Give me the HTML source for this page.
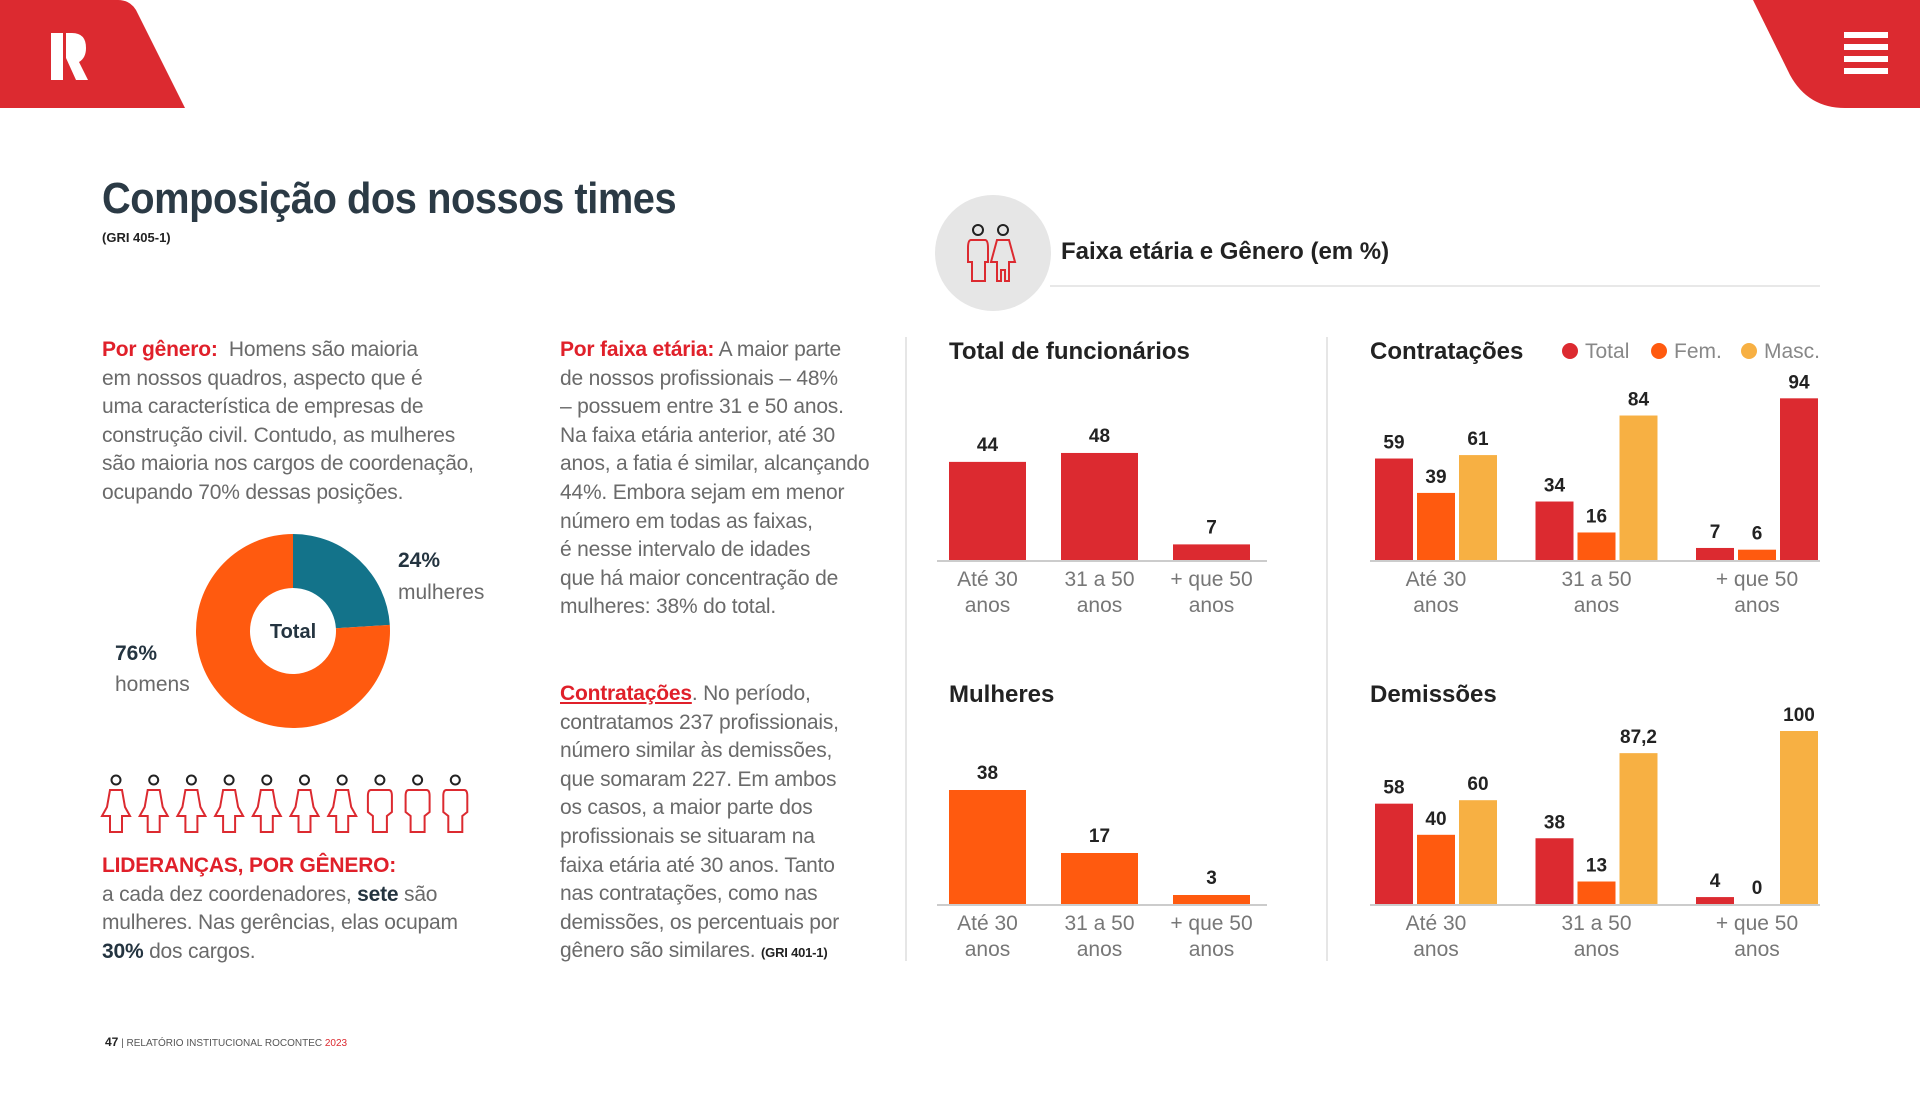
<!DOCTYPE html>
<html><head><meta charset="utf-8">
<style>
*{margin:0;padding:0;box-sizing:border-box}
body{width:1920px;height:1096px;background:#fff;position:relative;overflow:hidden;font-family:"Liberation Sans Narrow","Liberation Sans",sans-serif;}
.abs{position:absolute;white-space:nowrap}
.p{position:absolute;font-size:21px;line-height:28.6px;color:#6a6a6a;white-space:nowrap;letter-spacing:-0.2px}
.p b.r{color:#e0202a}
.p b.d{color:#243440}
h1{position:absolute;left:102px;top:174px;font-size:44px;color:#2b3a45;font-weight:bold;white-space:nowrap;letter-spacing:-0.5px;transform:scaleX(0.905);transform-origin:0 0}
</style></head>
<body>
<svg class="abs" style="left:0;top:0" width="1920" height="1096">
  <path d="M0 0 H118 Q132 0 138 14 L185 108 H0 Z" fill="#dc2a30"/>
  <path d="M51 33 H63 V80 H51 Z M66 33 H72 Q86 33 86 48 Q86 58 79 62 L88 80 H76 L66 58 Z" fill="#fff"/>
  <path d="M1753 0 H1920 V108 H1845 Q1808 108 1790 75 Z" fill="#dc2a30"/>
  <g fill="#fff">
    <rect x="1844" y="32" width="44" height="6"/><rect x="1844" y="44" width="44" height="6"/><rect x="1844" y="56" width="44" height="6"/><rect x="1844" y="68" width="44" height="6"/>
  </g>
  <circle cx="993" cy="253" r="58" fill="#e6e6e6"/>
  <g fill="none" stroke-width="2">
    <circle cx="978" cy="230" r="5" stroke="#222"/><circle cx="1003" cy="230" r="5" stroke="#222"/>
    <path d="M971 240 H985 Q988 240 988 248 V262 H985 V281 H972 V262 H968 V248 Q968 240 971 240Z" stroke="#dc2a30"/>
    <path d="M997 240 H1009 L1015 262 H1009 V281 H1005 V270 H1001 V281 H997 V262 H991 Z" stroke="#dc2a30"/>
  </g>
  <line x1="1050" y1="286" x2="1820" y2="286" stroke="#e8e8e8" stroke-width="2"/>
  <line x1="906" y1="337" x2="906" y2="961" stroke="#e6e6e6" stroke-width="2"/>
  <line x1="1327" y1="337" x2="1327" y2="961" stroke="#e6e6e6" stroke-width="2"/>
  <g id="charts"></g>
  <g id="donut"></g>
  <g id="people"></g>
</svg>

<h1>Composição dos nossos times</h1>
<div class="abs" style="left:102px;top:230px;font-size:13px;font-weight:bold;color:#222">(GRI 405-1)</div>
<div class="abs" style="left:1061px;top:238px;font-size:24px;font-weight:bold;color:#222">Faixa etária e Gênero (em %)</div>

<div class="p" style="left:102px;top:336px"><b class="r">Por gênero:</b>&nbsp; Homens são maioria<br>em nossos quadros, aspecto que é<br>uma característica de empresas de<br>construção civil. Contudo, as mulheres<br>são maioria nos cargos de coordenação,<br>ocupando 70% dessas posições.</div>

<div class="p" style="left:560px;top:336px"><b class="r">Por faixa etária:</b> A maior parte<br>de nossos profissionais – 48%<br>– possuem entre 31 e 50 anos.<br>Na faixa etária anterior, até 30<br>anos, a fatia é similar, alcançando<br>44%. Embora sejam em menor<br>número em todas as faixas,<br>é nesse intervalo de idades<br>que há maior concentração de<br>mulheres: 38% do total.</div>

<div class="p" style="left:560px;top:680px"><b class="r"><u>Contratações</u></b>. No período,<br>contratamos 237 profissionais,<br>número similar às demissões,<br>que somaram 227. Em ambos<br>os casos, a maior parte dos<br>profissionais se situaram na<br>faixa etária até 30 anos. Tanto<br>nas contratações, como nas<br>demissões, os percentuais por<br>gênero são similares. <b style="font-size:13px;color:#222">(GRI 401-1)</b></div>

<div class="p" style="left:102px;top:852px"><b class="r">LIDERANÇAS, POR GÊNERO:</b><br>a cada dez coordenadores, <b class="d">sete</b> são<br>mulheres. Nas gerências, elas ocupam<br><b class="d">30%</b> dos cargos.</div>

<div class="abs" style="left:398px;top:549px;font-size:21px;font-weight:bold;color:#243440">24%</div>
<div class="abs" style="left:398px;top:581px;font-size:21px;color:#6a6a6a">mulheres</div>
<div class="abs" style="left:115px;top:642px;font-size:21px;font-weight:bold;color:#243440">76%</div>
<div class="abs" style="left:115px;top:673px;font-size:21px;color:#6a6a6a">homens</div>

<div class="abs" style="left:105px;top:1035px;font-size:10px;color:#555"><b style="color:#222;font-size:12px">47</b> | RELATÓRIO INSTITUCIONAL ROCONTEC <span style="color:#dc2a30">2023</span></div>

<script>
const NS='http://www.w3.org/2000/svg';
const ageCats=['Até 30|anos','31 a 50|anos','+ que 50|anos'];
const totalVals=[44,48,7];
const womenVals=[38,17,3];
const hireTotal=[59,34,7];
const hireFem=[39,16,6];
const hireMasc=[61,84,94];
const fireTotal=[58,38,4];
const fireFem=[40,13,0];
const fireMasc=[60,87.2,100];
const donutVals=[24,76];
const figureTypes=['f','f','f','f','f','f','f','m','m','m'];
const RED='#dc2a30',ORANGE='#ff5a0f',YEL='#f7b043',TEAL='#13738a';
const charts=document.getElementById('charts');
function mk(tag,attrs,parent,text){const e=document.createElementNS(NS,tag);for(const k in attrs)e.setAttribute(k,attrs[k]);if(text!==undefined)e.textContent=text;(parent||charts).appendChild(e);return e;}
function fmt(v){return String(v).replace('.',',');}
function catLabel(cx,base,lbl){
  const parts=lbl.split('|');
  parts.forEach((s,j)=>{const t=mk('text',{x:cx,y:base+26+j*26,'text-anchor':'middle','font-size':21,fill:'#777'},charts,s);
  
  });
}
function title(x,y,s){const t=mk('text',{x:x,y:y,'font-size':24,'font-weight':'bold',fill:'#222'},charts,s);
  
  }
function simpleChart(name,x0,base,scale,vals,color){
  const step=112,w=77;
  const ax=mk('line',{x1:x0-12,x2:x0+318,y1:base+1,y2:base+1,stroke:'#ccc','stroke-width':2});
  
  
  vals.forEach((v,i)=>{
    const x=x0+i*step,h=v*scale;
    const r=mk('rect',{x:x,y:base-h,width:w,height:h,fill:color});
    
    
    const t=mk('text',{x:x+w/2,y:base-h-11,'text-anchor':'middle','font-size':19,'font-weight':'bold',fill:'#222'},charts,fmt(v));
    
    
    catLabel(x+w/2,base,ageCats[i]);
  });
}
function groupChart(name,x0,base,scale,series,colors){
  const gstep=160.5,off=42,w=38;
  const ax=mk('line',{x1:x0-5,x2:x0+445,y1:base+1,y2:base+1,stroke:'#ccc','stroke-width':2});
  
  
  ageCats.forEach((c,i)=>{
    series.forEach((vals,s)=>{
      const v=vals[i],x=x0+i*gstep+s*off,h=v*scale;
      const r=mk('rect',{x:x,y:base-h,width:w,height:h,fill:colors[i][s]});
      
      
      const t=mk('text',{x:x+w/2,y:base-h-10,'text-anchor':'middle','font-size':19,'font-weight':'bold',fill:'#222'},charts,fmt(v));
      
      
    });
    catLabel(x0+i*gstep+off+w/2,base,c);
  });
}
title(949,359,'Total de funcionários');
simpleChart('total',949,560,2.23,totalVals,RED);
title(949,702,'Mulheres');
simpleChart('women',949,904,3.0,womenVals,ORANGE);
title(1370,359,'Contratações');
groupChart('hiring',1375,560,1.72,[hireTotal,hireFem,hireMasc],[[RED,ORANGE,YEL],[RED,ORANGE,YEL],[RED,ORANGE,RED]]);
title(1370,702,'Demissões');
groupChart('dismissal',1375,904,1.73,[fireTotal,fireFem,fireMasc],[[RED,ORANGE,YEL],[RED,ORANGE,YEL],[RED,ORANGE,YEL]]);
[['Total',RED,1570],['Fem.',ORANGE,1659],['Masc.',YEL,1749]].forEach(l=>{
  const c=mk('circle',{cx:l[2],cy:351,r:8,fill:l[1]});
  
  
  const t=mk('text',{x:l[2]+15,y:358,'font-size':21,fill:'#888'},charts,l[0]);
  
  
});
const dg=document.getElementById('donut');
const cx=293,cy=631,R=97,r0=43;
let a0=-Math.PI/2;const tot=donutVals.reduce((a,b)=>a+b,0);
donutVals.forEach((v,i)=>{
  const a1=a0+v/tot*2*Math.PI,lg=(a1-a0)>Math.PI?1:0;
  const p=`M${cx+R*Math.cos(a0)} ${cy+R*Math.sin(a0)} A${R} ${R} 0 ${lg} 1 ${cx+R*Math.cos(a1)} ${cy+R*Math.sin(a1)} L${cx+r0*Math.cos(a1)} ${cy+r0*Math.sin(a1)} A${r0} ${r0} 0 ${lg} 0 ${cx+r0*Math.cos(a0)} ${cy+r0*Math.sin(a0)}Z`;
  const s=mk('path',{d:p,fill:i===0?TEAL:ORANGE},dg);
  
  
  a0=a1;
});
const dt=mk('text',{x:cx,y:cy+7,'text-anchor':'middle','font-size':20,'font-weight':'bold',fill:'#243440'},dg,'Total');


const pg=document.getElementById('people');
figureTypes.forEach((t,i)=>{
  const x=116+i*37.7;
  const g=mk('g',{fill:'none','stroke-width':2},pg);
  
  
  mk('circle',{cx:x,cy:780,r:4.5,stroke:'#222'},g);
  const d=t==='f'
    ?`M${x-6} 790 H${x+6} L${x+9} 807 L${x+14} 816 H${x+6} V832 H${x-6} V816 H${x-14} L${x-9} 807 Z`
    :`M${x-9} 790 H${x+9} Q${x+12} 790 ${x+12} 796 V812 L${x+7} 816 V832 H${x-7} V816 L${x-12} 812 V796 Q${x-12} 790 ${x-9} 790Z`;
  mk('path',{d:d,stroke:RED},g);
});
</script>
</body></html>
